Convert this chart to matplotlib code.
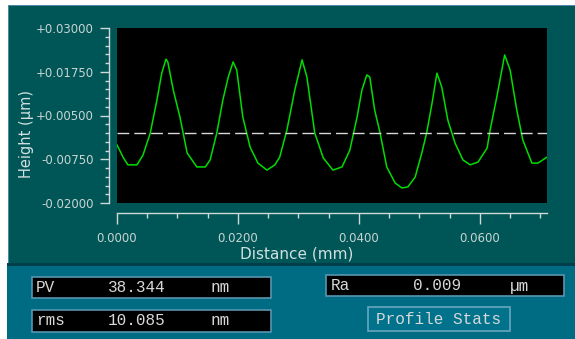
import matplotlib
matplotlib.use("Agg")
import matplotlib.pyplot as plt
from matplotlib.patches import Rectangle
from matplotlib.ticker import MultipleLocator, FixedLocator, FuncFormatter

# profile trace: distance along the scan (mm) and surface height (um)
distance_mm = [0.0000, 0.0010, 0.0018, 0.0033, 0.0043, 0.0055, 0.0066, 0.0074, 0.0081, 0.0084,
               0.0093, 0.0104, 0.0116, 0.0132, 0.0146, 0.0154, 0.0165, 0.0175, 0.0184, 0.0192,
               0.0198, 0.0208, 0.0220, 0.0233, 0.0248, 0.0261, 0.0269, 0.0281, 0.0294, 0.0306,
               0.0314, 0.0327, 0.0341, 0.0357, 0.0372, 0.0385, 0.0397, 0.0405, 0.0413, 0.0418,
               0.0426, 0.0435, 0.0446, 0.0460, 0.0471, 0.0481, 0.0493, 0.0504, 0.0512, 0.0521,
               0.0529, 0.0537, 0.0547, 0.0559, 0.0572, 0.0584, 0.0597, 0.0612, 0.0617, 0.0628,
               0.0641, 0.0650, 0.0661, 0.0671, 0.0686, 0.0696, 0.0711]
height_um = [-0.0034, -0.0069, -0.0091, -0.0091, -0.0063, 0.0000, 0.0094, 0.0171, 0.0211, 0.0203,
             0.0123, 0.0046, -0.0057, -0.0097, -0.0097, -0.0077, 0.0000, 0.0094, 0.0160, 0.0203,
             0.0180, 0.0046, -0.0040, -0.0086, -0.0106, -0.0091, -0.0069, 0.0009, 0.0123, 0.0209,
             0.0160, 0.0000, -0.0071, -0.0106, -0.0097, -0.0049, 0.0046, 0.0123, 0.0166, 0.0160,
             0.0066, 0.0000, -0.0097, -0.0143, -0.0157, -0.0154, -0.0126, -0.0057, 0.0000, 0.0086,
             0.0171, 0.0131, 0.0037, -0.0029, -0.0077, -0.0091, -0.0083, -0.0043, 0.0009, 0.0103,
             0.0223, 0.0180, 0.0066, -0.0020, -0.0086, -0.0086, -0.0069]

height_ticks = [-0.02, -0.0075, 0.005, 0.0175, 0.03]
distance_ticks = [0.0, 0.02, 0.04, 0.06]

# summary stats
pv_nm = 38.344
rms_nm = 10.085
ra_um = 0.009

W, H = 575, 339
fig = plt.figure(figsize=(W / 100, H / 100), dpi=100, facecolor="white")


def px_rect(x0, y0, x1, y1, **kw):
    # rectangle given in pixel coords measured from the top-left corner
    r = Rectangle((x0 / W, 1 - y1 / H), (x1 - x0) / W, (y1 - y0) / H,
                  transform=fig.transFigure, **kw)
    fig.add_artist(r)
    return r


def px_text(x, y, s, **kw):
    fig.text(x / W, 1 - y / H, s, **kw)


# panels
px_rect(8, 5, 576, 263, facecolor="#005656", edgecolor="none", zorder=0)
px_rect(8, 5, 9, 263, facecolor="#4a8aa8", edgecolor="none", zorder=0)
px_rect(8, 5, 576, 6, facecolor="#4a8aa8", edgecolor="none", zorder=0)
px_rect(7, 263, 576, 266, facecolor="#003e4c", edgecolor="none", zorder=0)
px_rect(7, 266, 576, 340, facecolor="#006c84", edgecolor="none", zorder=0)

# plot
ax = fig.add_axes([117 / W, 1 - 203 / H, 430 / W, 175 / H])
ax.set_facecolor("black")
ax.plot(distance_mm, height_um, color="#00dd00", lw=1.1)
ax.axhline(0, color="#d8d8d8", lw=1.0, dashes=(8.5, 3.6))

ax.set_xlim(0, 0.0711)
ax.set_ylim(-0.02, 0.03)

ax.yaxis.set_major_locator(FixedLocator(height_ticks))
ax.yaxis.set_minor_locator(MultipleLocator(0.0025))
ax.xaxis.set_major_locator(FixedLocator(distance_ticks))
ax.xaxis.set_minor_locator(MultipleLocator(0.005))
ax.yaxis.set_major_formatter(FuncFormatter(lambda v, p: f"{v:+.5f}"))
ax.xaxis.set_major_formatter(FuncFormatter(lambda v, p: f"{v:.4f}"))

for s in ["top", "right"]:
    ax.spines[s].set_visible(False)
ax.spines["left"].set_position(("outward", 5.8))
ax.spines["bottom"].set_position(("outward", 7.2))
for s in ["left", "bottom"]:
    ax.spines[s].set_color("#d0d8d8")
    ax.spines[s].set_linewidth(1.0)

ax.tick_params(axis="y", which="major", length=6.5, width=1, color="#d0d8d8",
               labelcolor="#c8d4d4", labelsize=8.5, pad=4.3)
ax.tick_params(axis="y", which="minor", length=3, width=1, color="#d0d8d8")
ax.tick_params(axis="x", which="major", length=8, width=1, color="#d0d8d8",
               labelcolor="#c8d4d4", labelsize=8.5, pad=5.5)
ax.tick_params(axis="x", which="minor", length=3.6, width=1, color="#d0d8d8")

px_text(297, 254, "Distance (mm)", color="#d0e0e0", fontsize=11, ha="center", va="center")
px_text(26, 134, "Height (µm)", color="#d0e0e0", fontsize=10.5, ha="center", va="center",
        rotation=90)

# stats boxes
box_kw = dict(facecolor="black", edgecolor="#5896b0", lw=1.2, zorder=1)
px_rect(32, 277, 271, 298, **box_kw)
px_rect(32, 310, 271, 332, **box_kw)
px_rect(326, 275, 564, 296, **box_kw)
px_rect(368, 307, 510, 331, facecolor="#00728c", edgecolor="#6aa6be", lw=1.2, zorder=1)

mono = dict(family="Liberation Mono", fontsize=11.5, color="#d8d8d8", va="center", ha="left")
px_text(36, 287.5, "PV", **mono)
px_text(108, 287.5, f"{pv_nm:.3f}", **mono)
px_text(211, 287.5, "nm", **mono)
px_text(36, 320.5, "rms", **mono)
px_text(108, 320.5, f"{rms_nm:.3f}", **mono)
px_text(211, 320.5, "nm", **mono)
px_text(331, 286, "Ra", **mono)
px_text(413, 286, f"{ra_um:.3f}", **mono)
px_text(510, 286, "µm", **mono)
px_text(439, 319, "Profile Stats", **{**mono, "ha": "center"})

fig.savefig("out.png", dpi=100, facecolor="white")
